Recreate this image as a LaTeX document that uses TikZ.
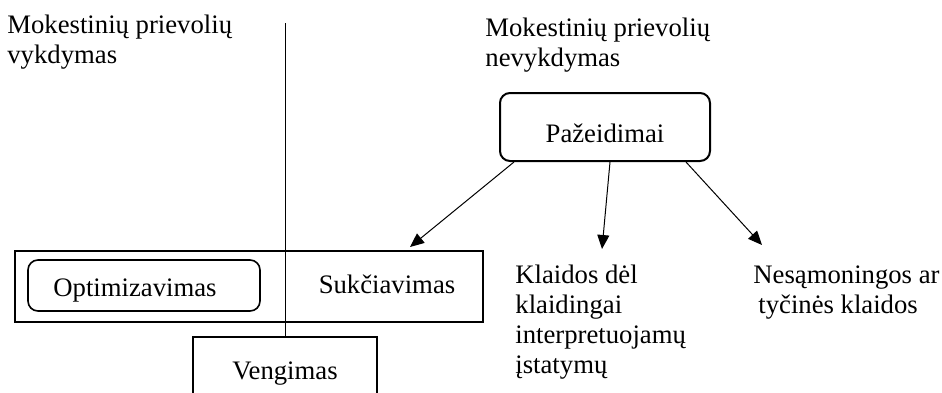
\documentclass[tikz,border=0pt]{standalone}
\usepackage{fontspec}
\setmainfont{Liberation Serif}
\usetikzlibrary{arrows.meta,calc}
\begin{document}
\begin{tikzpicture}[x=0.5pt,y=-0.5pt,
  txt/.style={font=\fontsize{13.35}{15}\selectfont, inner sep=0pt, align=left},
  rbox/.style={draw, line width=1pt, rounded corners=5pt, font=\fontsize{13.35}{15}\selectfont, inner sep=0pt},
  sqbox/.style={draw, line width=1pt, font=\fontsize{13.35}{15}\selectfont, inner sep=0pt},
  arr/.style={line width=0.5pt, -{Triangle[length=7pt,width=6pt]}}]
\useasboundingbox (0,0) rectangle (942,392);
\clip (0,0) rectangle (942,392);
% texts
\node[txt, anchor=north west] (vk) at (7,15) {Mokestinių prievolių\\vykdymas};
\node[txt, anchor=north west] (nvk) at (485,18) {Mokestinių prievolių\\nevykdymas};
% Pažeidimai
\node[rbox, minimum width=105pt, minimum height=34pt, text height=15pt, text depth=0pt] (pz) at (605,127) {Pažeidimai};
% big box
\node[sqbox, minimum width=234pt, minimum height=35.5pt] (big) at (249,286.5) {};
\node[rbox, line width=0.8pt, minimum width=116pt, minimum height=25.5pt, text height=10.5pt, text depth=0pt] (opt) at (144,285.5) {Optimizavimas\hspace*{9pt}};
\node[txt, anchor=base] (suk) at (387,293) {Sukčiavimas};
% Vengimas
\node[sqbox, anchor=north, minimum width=92pt, text height=21pt, text depth=30pt, inner ysep=0pt] (vg) at (285,336) {Vengimas};
% vertical line
\coordinate (top) at (285,23);
\draw[line width=0.5pt] (top) -- (vg.north);
% right texts
\node[txt, anchor=north west] (kl) at (515,265) {Klaidos dėl\\klaidingai\\interpretuojamų\\įstatymų};
\node[txt, anchor=north west] (ns) at (753,265) {Nesąmoningos ar\\\hspace*{2.5pt}tyčinės klaidos};
% arrows
\coordinate (t1) at (410,247);
\coordinate (t2) at (602,249);
\coordinate (t3) at (762,245);
\draw[arr] ($(pz.south west)+(15,0)$) -- (t1);
\draw[arr] ($(pz.south)+(5,0)$) -- (t2);
\draw[arr] ($(pz.south east)+(-25,0)$) -- (t3);
\end{tikzpicture}
\end{document}
